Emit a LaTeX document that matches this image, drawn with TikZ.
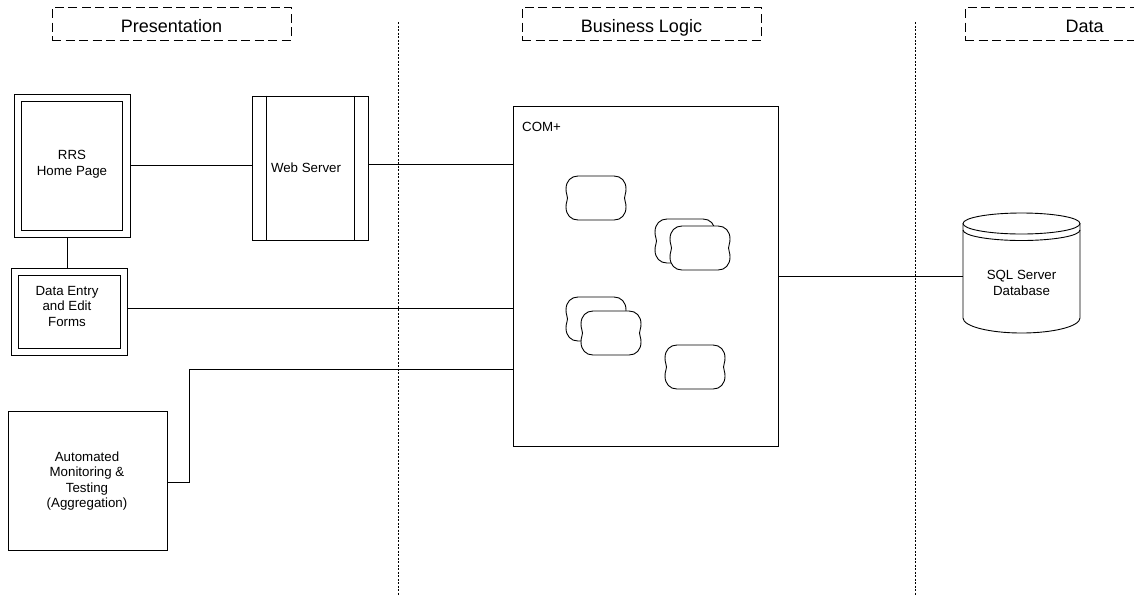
\documentclass[tikz,border=0pt]{standalone}
\usepackage{fontspec}
\setmainfont{Liberation Sans}
\begin{document}
\begin{tikzpicture}[x=1pt,y=-1pt,
  line/.style={line width=0.9pt, draw=black},
  box/.style={draw=black, line width=0.9pt, inner sep=0pt},
  hdr/.style={draw=black, line width=0.8pt, dash pattern=on 9pt off 4.5pt, minimum width=239pt, minimum height=33pt, inner sep=0pt},
  hdrtext/.style={font=\fontsize{18}{20}\selectfont, inner sep=0pt, anchor=base},
  lbl/.style={font=\fontsize{13.3}{15.5}\selectfont, align=center, inner sep=0pt},
  sep/.style={line width=0.9pt, dash pattern=on 2pt off 1.5pt},
  comp/.pic={\draw[line, fill=white] (12,0) -- (48,0) .. controls (55,0) and (60,5) .. (60,13) .. controls (60,18) and (58.5,19) .. (58.5,22) .. controls (58.5,25) and (60,26) .. (60,31) .. controls (60,39) and (55,44) .. (48,44) -- (12,44) .. controls (5,44) and (0,39) .. (0,31) .. controls (0,26) and (1.5,25) .. (1.5,22) .. controls (1.5,19) and (0,18) .. (0,13) .. controls (0,5) and (5,0) .. (12,0) -- cycle;}
]
\useasboundingbox (0,0) rectangle (1134,595);
\clip (0,0) rectangle (1134,595);

% headers
\node[hdr] (hpres) at (171.5,23.5) {};
\node[hdrtext] (hprestxt) at (171.5,32.5) {Presentation};
\node[hdr] (hbus) at (641.5,23.5) {};
\node[hdrtext] (hbustxt) at (641.5,32.5) {Business Logic};
\node[hdr] (hdata) at (1084.5,23.5) {};
\node[hdrtext] (hdatatxt) at (1084.5,32.5) {Data};

% separators
\coordinate (s1t) at (398,22); \coordinate (s1b) at (398,595);
\coordinate (s2t) at (915,22); \coordinate (s2b) at (915,595);
\draw[sep] (s1t) -- (s1b);
\draw[sep] (s2t) -- (s2b);

% RRS Home Page
\node[box, minimum width=116pt, minimum height=143pt] (rrs) at (72,165.5) {};
\node[box, minimum width=101pt, minimum height=129pt] (rrsin) at (72,166) {};
\node[lbl] (rrslbl) at (72,164) {RRS\\Home Page};

% Web Server
\node[box, minimum width=115.5pt, minimum height=144pt] (ws) at (310.5,168) {};
\draw[line] ([xshift=14pt]ws.north west) -- ([xshift=14pt]ws.south west);
\draw[line] ([xshift=-14pt]ws.north east) -- ([xshift=-14pt]ws.south east);
\node[lbl] (wslbl) at (306,168) {Web Server};

% Data entry
\node[box, minimum width=116pt, minimum height=87pt] (de) at (69,311.5) {};
\node[box, minimum width=102pt, minimum height=73pt] (dein) at (69,311.5) {};
\node[lbl] (delbl) at (67,306) {Data Entry\\and Edit\\Forms};

% Automated
\node[box, minimum width=159pt, minimum height=139pt] (auto) at (87.5,480.5) {};
\node[lbl] (autolbl) at (87,481) {Automated\\Monitoring \&\\Testing\\(Aggregation)};

% COM+
\node[box, minimum width=265pt, minimum height=340pt] (com) at (645.5,276) {};
\node[lbl, anchor=west] (comlbl) at (522,127) {COM+};

\pic at (566,176) {comp};
\pic at (655,219) {comp};
\pic at (670,226) {comp};
\pic at (566,297) {comp};
\pic at (581,311) {comp};
\pic at (665,345) {comp};

% Database
\node[inner sep=0pt, minimum width=117pt, minimum height=120pt] (db) at (1021.5,273) {};
\draw[line, fill=white] (963,223.5) -- (963,318) arc[start angle=180, end angle=360, x radius=58.5pt, y radius=15pt] -- (1080,223.5);
\draw[line] (1021.5,223.5) ellipse [x radius=58.5pt, y radius=10.5pt];
\draw[line] (963,230) arc[start angle=180, end angle=360, x radius=58.5pt, y radius=10.5pt];
\node[lbl] (dblbl) at (1021.5,283) {SQL Server\\Database};

% connectors
\draw[line] (rrs.east) -- (rrs.east -| ws.west);
\draw[line] ([yshift=4pt]ws.east) -- ([yshift=4pt]ws.east -| com.west);
\draw[line] ([xshift=-5pt]rrs.south) -- ([xshift=-5pt]rrs.south |- de.north);
\draw[line] (de.east |- 0,308) -- (com.west |- 0,308);
\draw[line] (auto.east |- 0,482) -| (189,369) -- (com.west |- 0,369);
\draw[line] (com.east |- 0,276) -- (db.west |- 0,276);
\end{tikzpicture}
\end{document}
